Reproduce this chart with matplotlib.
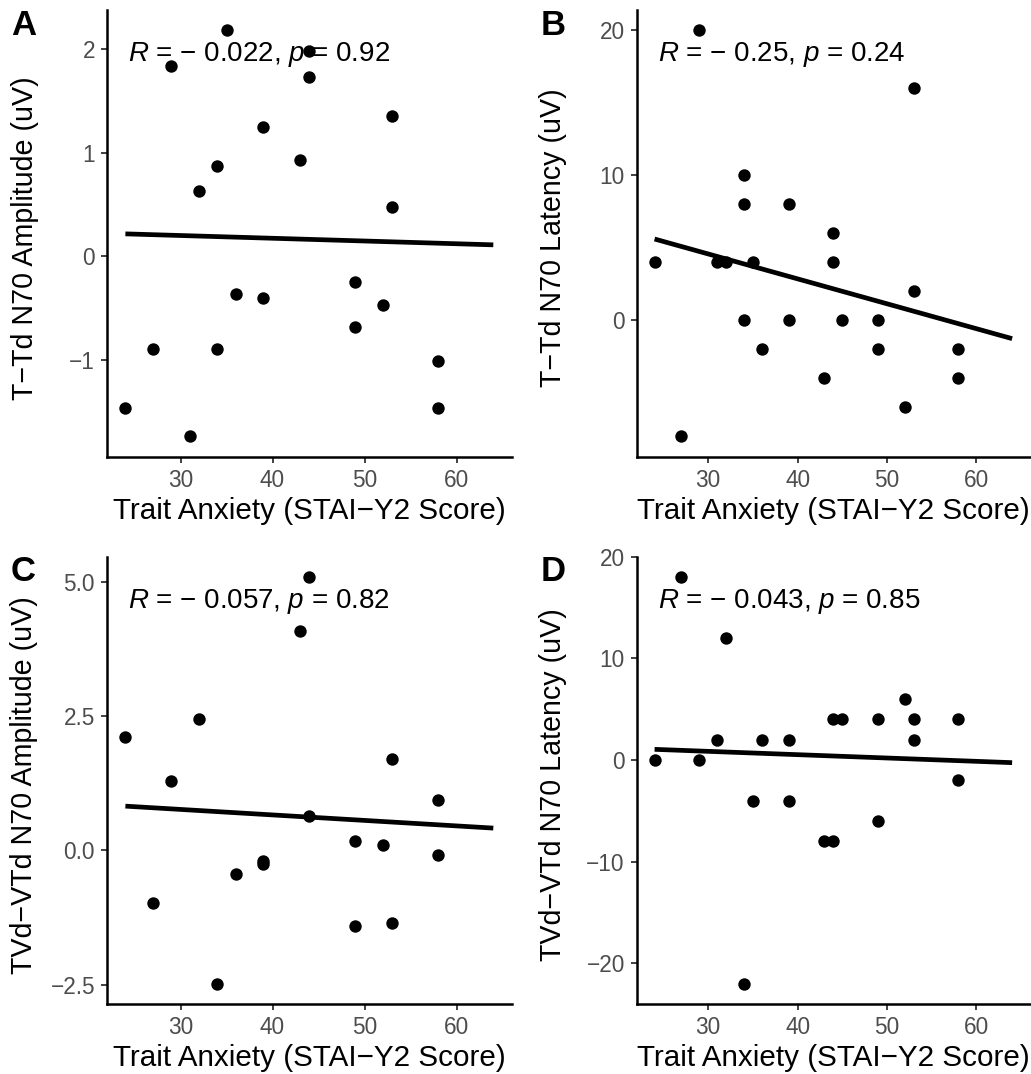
import matplotlib
matplotlib.use("Agg")
import matplotlib.pyplot as plt
import numpy as np

plt.rcParams['font.family'] = ['Liberation Sans', 'DejaVu Sans']
plt.rcParams['mathtext.fontset'] = 'custom'
plt.rcParams['mathtext.rm'] = 'Liberation Sans'
plt.rcParams['mathtext.it'] = 'Liberation Sans:italic'

# Panel A: T-Td N70 amplitude
a_x = [24, 27, 29, 31, 32, 34, 34, 35, 36, 39, 39, 43, 44, 44, 49, 49, 52, 53, 53, 58, 58]
a_y = [-1.47, -0.90, 1.84, -1.74, 0.63, 0.87, -0.90, 2.18, -0.37, 1.25, -0.40, 0.93, 1.98, 1.73,
       -0.25, -0.68, -0.47, 1.35, 0.47, -1.01, -1.47]
# Panel B: T-Td N70 latency
b_x = [24, 27, 29, 31, 32, 34, 34, 34, 35, 36, 39, 39, 43, 44, 44, 45, 49, 49, 52, 53, 53, 58, 58]
b_y = [4, -8, 20, 4, 4, 10, 8, 0, 4, -2, 8, 0, -4, 6, 4, 0, 0, -2, -6, 16, 2, -2, -4]
# Panel C: TVd-VTd N70 amplitude
c_x = [24, 27, 29, 32, 34, 36, 39, 39, 43, 44, 44, 49, 49, 52, 53, 53, 58, 58]
c_y = [2.12, -0.97, 1.29, 2.45, -2.48, -0.43, -0.20, -0.26, 4.09, 5.09, 0.64, 0.17, -1.41, 0.11,
       1.71, -1.35, 0.93, -0.08]
# Panel D: TVd-VTd N70 latency
d_x = [24, 27, 29, 31, 32, 34, 35, 36, 39, 39, 43, 44, 44, 45, 49, 49, 52, 53, 53, 58, 58]
d_y = [0, 18, 0, 2, 12, -22, -4, 2, 2, -4, -8, -8, 4, 4, 4, -6, 6, 4, 2, 4, -2]

# fitted regression lines (value at x = 24 and x = 64)
fit_x = [24, 64]
a_fit = [0.215, 0.109]
b_fit = [5.61, -1.26]
c_fit = [0.825, 0.416]
d_fit = [1.05, -0.26]

stats = ['$R$ = \u2212 0.022, $p$ = 0.92',
         '$R$ = \u2212 0.25, $p$ = 0.24',
         '$R$ = \u2212 0.057, $p$ = 0.82',
         '$R$ = \u2212 0.043, $p$ = 0.85']
ylabels = ['T\u2212Td N70 Amplitude (uV)', 'T\u2212Td N70 Latency (uV)',
           'TVd\u2212VTd N70 Amplitude (uV)', 'TVd\u2212VTd N70 Latency (uV)']
panel_letters = ['A', 'B', 'C', 'D']
xlabel = 'Trait Anxiety (STAI\u2212Y2 Score)'
x_ticks = [30, 40, 50, 60]
y_ticks = [[-1, 0, 1, 2], [0, 10, 20], [-2.5, 0.0, 2.5, 5.0], [-20, -10, 0, 10, 20]]
y_ticklabels = [['\u22121', '0', '1', '2'], ['0', '10', '20'],
                ['\u22122.5', '0.0', '2.5', '5.0'], ['\u221220', '\u221210', '0', '10', '20']]

W, H = 1031, 1074
fig = plt.figure(figsize=(W / 100, H / 100), dpi=100)

boxes = [(107, 10, 511.7, 456.7), (636.7, 10, 1030, 456.7),
         (107, 556.7, 511.7, 1004), (636.7, 556.7, 1030, 1004)]
letter_pos = [(11, 9), (541, 9), (11, 555), (541, 555)]
ylabel_cx = [25, 553, 24, 553]
datasets = [(a_x, a_y, a_fit), (b_x, b_y, b_fit), (c_x, c_y, c_fit), (d_x, d_y, d_fit)]

grey = '#4D4D4D'
for i, ((xs, ys, fit), (l, t, r, b)) in enumerate(zip(datasets, boxes)):
    ax = fig.add_axes([l / W, 1 - b / H, (r - l) / W, (b - t) / H])
    ax.scatter(xs, ys, s=80, color='black', zorder=3, linewidths=0)
    ax.plot(fit_x, fit, color='black', lw=3.4, zorder=2, solid_capstyle='butt')
    ax.set_xlim(22, 66)
    yall = list(ys) + list(fit)
    lo, hi = min(yall), max(yall)
    pad = (hi - lo) * 0.05
    ax.set_ylim(lo - pad, hi + pad)
    ax.set_xticks(x_ticks)
    ax.set_xticklabels([str(v) for v in x_ticks])
    ax.set_yticks(y_ticks[i])
    ax.set_yticklabels(y_ticklabels[i])
    for s in ['top', 'right']:
        ax.spines[s].set_visible(False)
    for s in ['left', 'bottom']:
        ax.spines[s].set_linewidth(1.8)
        ax.spines[s].set_color('black')
    ax.tick_params(axis='both', length=4.3, width=1.3, color='#333333',
                   labelsize=16.3, labelcolor=grey, pad=4.3)
    ax.set_xlabel(xlabel, fontsize=21.3, va='center')
    ax.xaxis.set_label_coords(0.5, -54.0 / (b - t))
    ax.set_ylabel(ylabels[i], fontsize=20.6, va='center')
    ax.yaxis.set_label_coords((ylabel_cx[i] - l) / (r - l), 0.49)
    base_y = 61.0 if i < 2 else 608.0
    ax.text(21.0 / (r - l), 1 - (base_y - t) / (b - t),
            stats[i], transform=ax.transAxes, fontsize=20,
            ha='left', va='baseline', zorder=4)
    fig.text(letter_pos[i][0] / W, 1 - letter_pos[i][1] / H, panel_letters[i],
             fontsize=25, fontweight='bold', ha='left', va='top')

fig.savefig('out.png', dpi=100, facecolor='white')
